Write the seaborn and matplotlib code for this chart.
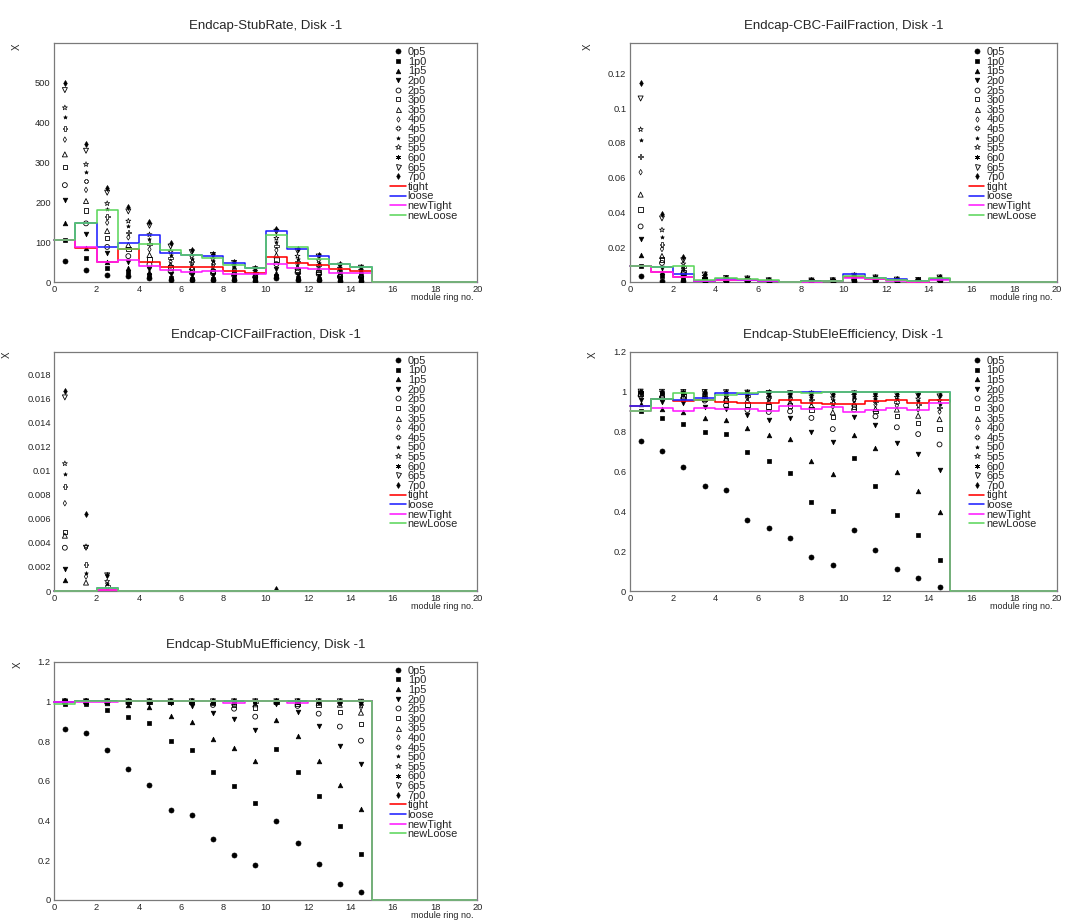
import numpy as np
import matplotlib
matplotlib.use("Agg")
import matplotlib.pyplot as plt
import seaborn as sns
from matplotlib.lines import Line2D
from matplotlib.ticker import MultipleLocator, FuncFormatter

nan = np.nan

# ---------------------------------------------------------------- data
ring_centers = np.arange(15) + 0.5          # module rings 0..14 (bin centres)
bin_edges = np.arange(21)                    # histogram binning 0..20
thresholds = ["0p5", "1p0", "1p5", "2p0", "2p5", "3p0", "3p5",
              "4p0", "4p5", "5p0", "5p5", "6p0", "6p5", "7p0"]
working_points = ["tight", "loose", "newTight", "newLoose"]

stub_rate = {
    "0p5": [53, 31, 17.5, 14, 9, 5, 5, 5, 4, 3, 10, 6, 5, 3, 3],
    "1p0": [106, 61, 36, 25, 17, 9, 8, 8, 7, 6, 15, 9, 8, 5, 5],
    "1p5": [148, 86, 49, 36, 24, 13, 13, 12, 10, 7.5, 22, 13, 11, 7, 7],
    "2p0": [205, 120, 73, 51, 33, 20, 18, 17, 13, 10, 33, 18, 15, 10, 9],
    "2p5": [243, 147, 88, 65, 44, 27, 23, 22, 17, 12.5, 45, 24, 20, 13, 12],
    "3p0": [288, 179, 111, 83, 57, 36, 31, 28, 22, 15, 57, 30, 25, 16, 15],
    "3p5": [320, 203, 128, 93, 68, 43, 37, 33, 25, 17.5, 67, 37, 30, 19, 18],
    "4p0": [357, 231, 149, 112, 82, 51, 44, 39, 29, 20, 80, 44, 36, 23, 21],
    "4p5": [385, 253, 164, 124, 96, 60, 51, 46, 33, 22.5, 90, 51, 42, 27, 24],
    "5p0": [413, 275, 183, 141, 109, 69, 59, 53, 38, 25, 101, 58, 48, 31, 27],
    "5p5": [437, 295, 197, 153, 119, 76, 64, 58, 42, 27.5, 110, 65, 54, 35, 30],
    "6p0": [459, 312, 210, 165, 130, 83, 70, 63, 45, 30, 118, 72, 59, 38, 33],
    "6p5": [481, 329, 224, 177, 141, 89, 75, 68, 48, 32, 126, 78, 64, 41, 36],
    "7p0": [499, 345, 236, 188, 150, 97, 80, 71, 51, 34, 134, 84, 68, 44, 38],
}
stub_rate_wp = {
    "tight":    [105, 86, 50, 83, 51, 38, 37, 38, 28, 22, 64, 47, 42, 32, 28],
    "loose":    [105, 147, 89, 98, 118, 73, 68, 65, 48, 36, 127, 82, 65, 46, 38],
    "newTight": [105, 87, 51, 55, 40, 30, 24, 28, 20, 20, 44, 34, 32, 23, 23],
    "newLoose": [105, 147, 181, 83, 96, 80, 68, 60, 43, 36, 117, 88, 58, 46, 38],
}

cbc_fail = {
    "0p5": [0.0034, 0.0006, 0.0006, 0.0002, 0.0008, 0.0007, 0.0003, nan, 0.0002, 0.0003, 0.0005, 0.0010, 0.0002, 0.0005, 0.0010],
    "1p0": [0.0094, 0.0034, 0.0015, 0.0004, 0.0010, 0.0009, 0.0004, nan, 0.0003, 0.0004, 0.0010, 0.0013, 0.0004, 0.0006, 0.0013],
    "1p5": [0.0153, 0.0060, 0.0025, 0.0006, 0.0012, 0.0010, 0.0005, nan, 0.0004, 0.0005, 0.0015, 0.0015, 0.0005, 0.0007, 0.0015],
    "2p0": [0.0249, 0.0082, 0.0035, 0.0009, 0.0014, 0.0011, 0.0006, nan, 0.0004, 0.0006, 0.0018, 0.0017, 0.0006, 0.0008, 0.0017],
    "2p5": [0.0320, 0.0110, 0.0045, 0.0012, 0.0015, 0.0012, 0.0006, nan, 0.0005, 0.0006, 0.0020, 0.0018, 0.0007, 0.0008, 0.0018],
    "3p0": [0.0417, 0.0130, 0.0055, 0.0015, 0.0016, 0.0013, 0.0007, nan, 0.0005, 0.0007, 0.0022, 0.0019, 0.0008, 0.0009, 0.0019],
    "3p5": [0.0503, 0.0150, 0.0065, 0.0018, 0.0017, 0.0014, 0.0007, nan, 0.0006, 0.0007, 0.0024, 0.0020, 0.0009, 0.0009, 0.0020],
    "4p0": [0.0632, 0.0190, 0.0075, 0.0022, 0.0018, 0.0015, 0.0008, nan, 0.0006, 0.0008, 0.0026, 0.0021, 0.0010, 0.0010, 0.0021],
    "4p5": [0.0722, 0.0215, 0.0085, 0.0026, 0.0019, 0.0016, 0.0008, nan, 0.0007, 0.0008, 0.0028, 0.0022, 0.0011, 0.0010, 0.0022],
    "5p0": [0.0817, 0.0258, 0.0095, 0.0030, 0.0020, 0.0017, 0.0009, nan, 0.0007, 0.0009, 0.0030, 0.0023, 0.0012, 0.0011, 0.0023],
    "5p5": [0.0878, 0.0300, 0.0105, 0.0034, 0.0021, 0.0018, 0.0009, nan, 0.0008, 0.0009, 0.0032, 0.0024, 0.0013, 0.0011, 0.0024],
    "6p0": [0.0976, 0.0330, 0.0115, 0.0038, 0.0022, 0.0019, 0.0010, nan, 0.0008, 0.0010, 0.0034, 0.0025, 0.0014, 0.0012, 0.0025],
    "6p5": [0.1056, 0.0366, 0.0125, 0.0043, 0.0023, 0.0020, 0.0010, nan, 0.0009, 0.0010, 0.0036, 0.0026, 0.0014, 0.0012, 0.0026],
    "7p0": [0.1143, 0.0390, 0.0142, 0.0048, 0.0024, 0.0021, 0.0011, nan, 0.0009, 0.0011, 0.0038, 0.0027, 0.0015, 0.0013, 0.0027],
}
cbc_fail_wp = {
    "tight":    [0.0094, 0.0057, 0.0027, 0.0006, 0.0013, 0.0012, 0.0007, 0, 0.0004, 0.0007, 0.0030, 0.0020, 0.0009, 0.0003, 0.0015],
    "loose":    [0.0094, 0.0088, 0.0044, 0.0008, 0.0015, 0.0013, 0.0008, 0, 0.0004, 0.0008, 0.0044, 0.0025, 0.0017, 0.0004, 0.0017],
    "newTight": [0.0094, 0.0057, 0.0027, 0.0004, 0.0012, 0.0011, 0.0006, 0, 0.0003, 0.0006, 0.0023, 0.0019, 0.0008, 0.0002, 0.0014],
    "newLoose": [0.0094, 0.0088, 0.0094, 0.0011, 0.0021, 0.0017, 0.0010, 0, 0.0006, 0.0006, 0.0036, 0.0025, 0.0011, 0.0006, 0.0021],
}

cic_fail = {
    "0p5": [nan, nan, nan, nan, nan, nan, nan, nan, nan, nan, nan, nan, nan, nan, nan],
    "1p0": [nan, nan, nan, nan, nan, nan, nan, nan, nan, nan, nan, nan, nan, nan, nan],
    "1p5": [0.0009, nan, nan, nan, nan, nan, nan, nan, nan, nan, nan, nan, nan, nan, nan],
    "2p0": [0.00186, nan, nan, nan, nan, nan, nan, nan, nan, nan, nan, nan, nan, nan, nan],
    "2p5": [0.0036, nan, nan, nan, nan, nan, nan, nan, nan, nan, nan, nan, nan, nan, nan],
    "3p0": [0.0049, nan, nan, nan, nan, nan, nan, nan, nan, nan, nan, nan, nan, nan, nan],
    "3p5": [0.0046, 0.0007, nan, nan, nan, nan, nan, nan, nan, nan, nan, nan, nan, nan, nan],
    "4p0": [0.0073, 0.0012, nan, nan, nan, nan, nan, nan, nan, nan, nan, nan, nan, nan, nan],
    "4p5": [0.0087, 0.0022, 0.0004, nan, nan, nan, nan, nan, nan, nan, nan, nan, nan, nan, nan],
    "5p0": [0.0097, 0.0015, 0.0006, nan, nan, nan, nan, nan, nan, nan, nan, nan, nan, nan, nan],
    "5p5": [0.0106, 0.0037, 0.0008, nan, nan, nan, nan, nan, nan, nan, nan, nan, nan, nan, nan],
    "6p0": [0.0144, 0.0036, 0.0009, nan, nan, nan, nan, nan, nan, nan, nan, nan, nan, nan, nan],
    "6p5": [0.0161, 0.0036, 0.0013, nan, nan, nan, nan, nan, nan, nan, nan, nan, nan, nan, nan],
    "7p0": [0.0166, 0.0064, 0.0013, nan, nan, nan, nan, nan, nan, nan, 0.00014, nan, nan, nan, nan],
}
cic_fail_wp = {
    "tight":    [0, 0, 0.00005, 0, 0, 0, 0, 0, 0, 0, 0, 0, 0, 0, 0],
    "loose":    [0, 0, 0.00022, 0, 0, 0, 0, 0, 0, 0, 0, 0, 0, 0, 0],
    "newTight": [0, 0, 0.00005, 0, 0, 0, 0, 0, 0, 0, 0, 0, 0, 0, 0],
    "newLoose": [0, 0, 0.00022, 0, 0, 0, 0, 0, 0, 0, 0, 0, 0, 0, 0],
}

ele_eff = {
    "0p5": [0.752, 0.700, 0.620, 0.529, 0.508, 0.357, 0.315, 0.266, 0.169, 0.129, 0.305, 0.208, 0.109, 0.064, 0.022],
    "1p0": [0.905, 0.869, 0.839, 0.796, 0.786, 0.698, 0.652, 0.593, 0.447, 0.402, 0.667, 0.526, 0.382, 0.280, 0.156],
    "1p5": [0.936, 0.913, 0.898, 0.869, 0.859, 0.819, 0.784, 0.764, 0.650, 0.586, 0.784, 0.717, 0.595, 0.501, 0.397],
    "2p0": [0.960, 0.948, 0.941, 0.921, 0.915, 0.884, 0.859, 0.869, 0.797, 0.745, 0.873, 0.834, 0.742, 0.687, 0.606],
    "2p5": [0.980, 0.970, 0.965, 0.955, 0.931, 0.908, 0.898, 0.901, 0.868, 0.812, 0.910, 0.876, 0.821, 0.787, 0.735],
    "3p0": [0.990, 0.980, 0.975, 0.965, 0.955, 0.936, 0.926, 0.930, 0.910, 0.874, 0.926, 0.903, 0.879, 0.843, 0.812],
    "3p5": [0.990, 0.985, 0.980, 0.975, 0.965, 0.955, 0.950, 0.945, 0.930, 0.896, 0.940, 0.913, 0.910, 0.879, 0.862],
    "4p0": [0.995, 0.990, 0.985, 0.980, 0.975, 0.968, 0.962, 0.958, 0.948, 0.925, 0.955, 0.935, 0.930, 0.910, 0.900],
    "4p5": [0.997, 0.993, 0.990, 0.987, 0.982, 0.977, 0.972, 0.968, 0.960, 0.945, 0.965, 0.950, 0.948, 0.935, 0.920],
    "5p0": [0.998, 0.996, 0.994, 0.992, 0.988, 0.984, 0.980, 0.977, 0.971, 0.960, 0.975, 0.963, 0.962, 0.952, 0.940],
    "5p5": [0.999, 0.997, 0.996, 0.995, 0.992, 0.989, 0.986, 0.984, 0.979, 0.970, 0.982, 0.973, 0.972, 0.964, 0.955],
    "6p0": [1.000, 0.998, 0.997, 0.997, 0.995, 0.993, 0.990, 0.989, 0.985, 0.978, 0.987, 0.980, 0.980, 0.974, 0.967],
    "6p5": [1.000, 0.999, 0.998, 0.998, 0.997, 0.995, 0.993, 0.992, 0.989, 0.984, 0.991, 0.986, 0.986, 0.981, 0.976],
    "7p0": [1.000, 1.000, 0.999, 0.999, 0.998, 0.997, 0.996, 0.995, 0.993, 0.989, 0.994, 0.990, 0.990, 0.987, 0.983],
}
ele_eff_wp = {
    "tight":    [0.930, 0.961, 0.955, 0.958, 0.948, 0.941, 0.945, 0.956, 0.941, 0.936, 0.940, 0.951, 0.958, 0.941, 0.960],
    "loose":    [0.930, 0.961, 0.958, 0.968, 0.995, 0.990, 0.997, 0.998, 0.997, 1.000, 1.000, 0.997, 0.999, 0.998, 0.998],
    "newTight": [0.905, 0.918, 0.901, 0.920, 0.915, 0.913, 0.901, 0.930, 0.913, 0.925, 0.900, 0.908, 0.920, 0.910, 0.943],
    "newLoose": [0.905, 0.961, 0.993, 0.956, 0.983, 0.995, 0.997, 1.000, 0.995, 1.000, 1.000, 1.000, 1.000, 1.000, 1.000],
}

mu_eff = {
    "0p5": [0.863, 0.841, 0.757, 0.658, 0.581, 0.454, 0.427, 0.308, 0.224, 0.174, 0.399, 0.286, 0.179, 0.079, 0.042],
    "1p0": [0.985, 0.985, 0.958, 0.921, 0.891, 0.802, 0.757, 0.642, 0.576, 0.489, 0.762, 0.642, 0.524, 0.374, 0.231],
    "1p5": [0.995, 0.995, 0.990, 0.983, 0.972, 0.928, 0.898, 0.811, 0.767, 0.698, 0.908, 0.826, 0.702, 0.580, 0.457],
    "2p0": [0.998, 0.998, 0.997, 0.995, 0.993, 0.990, 0.978, 0.940, 0.913, 0.856, 0.987, 0.948, 0.874, 0.774, 0.685],
    "2p5": [0.999, 0.999, 0.999, 0.998, 0.997, 0.996, 0.994, 0.982, 0.963, 0.923, 0.995, 0.977, 0.938, 0.873, 0.802],
    "3p0": [1.000, 1.000, 0.999, 0.999, 0.998, 0.998, 0.997, 0.993, 0.985, 0.970, 0.998, 0.990, 0.983, 0.946, 0.886],
    "3p5": [1.000, 1.000, 1.000, 0.999, 0.999, 0.999, 0.998, 0.997, 0.994, 0.985, 0.999, 0.996, 0.993, 0.983, 0.943],
    "4p0": [1.000, 1.000, 1.000, 1.000, 1.000, 0.999, 0.999, 0.998, 0.997, 0.993, 1.000, 0.998, 0.997, 0.990, 0.970],
    "4p5": [1.000, 1.000, 1.000, 1.000, 1.000, 1.000, 1.000, 0.999, 0.999, 0.997, 1.000, 0.999, 0.999, 0.996, 0.985],
    "5p0": [1.000, 1.000, 1.000, 1.000, 1.000, 1.000, 1.000, 1.000, 1.000, 0.999, 1.000, 1.000, 1.000, 0.998, 0.990],
    "5p5": [1.000, 1.000, 1.000, 1.000, 1.000, 1.000, 1.000, 1.000, 1.000, 1.000, 1.000, 1.000, 1.000, 0.999, 0.994],
    "6p0": [1.000, 1.000, 1.000, 1.000, 1.000, 1.000, 1.000, 1.000, 1.000, 1.000, 1.000, 1.000, 1.000, 1.000, 0.996],
    "6p5": [1.000, 1.000, 1.000, 1.000, 1.000, 1.000, 1.000, 1.000, 1.000, 1.000, 1.000, 1.000, 1.000, 1.000, 0.998],
    "7p0": [1.000, 1.000, 1.000, 1.000, 1.000, 1.000, 1.000, 1.000, 1.000, 1.000, 1.000, 1.000, 1.000, 1.000, 0.999],
}
mu_eff_wp = {
    "tight":    [0.995, 1.000, 1.000, 1.000, 1.000, 1.000, 1.000, 1.000, 1.000, 1.000, 1.000, 1.000, 1.000, 1.000, 1.000],
    "loose":    [0.999, 1.000, 1.000, 1.000, 1.000, 1.000, 1.000, 1.000, 1.000, 1.000, 1.000, 1.000, 1.000, 1.000, 1.000],
    "newTight": [0.995, 0.996, 0.996, 1.000, 1.000, 1.000, 1.000, 1.000, 0.990, 1.000, 1.000, 0.993, 1.000, 1.000, 1.000],
    "newLoose": [0.986, 1.000, 1.000, 1.000, 1.000, 1.000, 1.000, 1.000, 1.000, 1.000, 1.000, 1.000, 1.000, 1.000, 1.000],
}

# ---------------------------------------------------------------- style
sns.set_theme(style="white")
plt.rcParams["font.family"] = ["Liberation Sans", "DejaVu Sans"]

# marker, size (pt), filled, edge width
marker_style = {
    "0p5": ("o", 3.6, True, 0.5),
    "1p0": ("s", 3.1, True, 0.5),
    "1p5": ("^", 3.3, True, 0.5),
    "2p0": ("v", 3.3, True, 0.5),
    "2p5": ("o", 3.5, False, 0.6),
    "3p0": ("s", 3.2, False, 0.6),
    "3p5": ("^", 3.6, False, 0.6),
    "4p0": ("d", 2.8, False, 0.5),
    "4p5": ("P", 3.4, False, 0.5),
    "5p0": ("*", 2.8, True, 0.4),
    "5p5": ("*", 3.8, False, 0.5),
    "6p0": ((6, 2, 0), 3.6, False, 0.6),
    "6p5": ("v", 3.6, False, 0.6),
    "7p0": ("d", 3.0, True, 0.5),
}
wp_colors = {"tight": "#ff0000", "loose": "#1f1fff",
             "newTight": "#ff1aff", "newLoose": "#5cd65c"}
frame_color = "#7a7a7a"

panels = [
    # title, points, working points, ymax, major, minor, axes rect, ylabel x
    ("Endcap-StubRate, Disk -1", stub_rate, stub_rate_wp, 599, 100, 20,
     [0.0505, 0.6941, 0.3935, 0.2592], -0.078),
    ("Endcap-CBC-FailFraction, Disk -1", cbc_fail, cbc_fail_wp, 0.1375, 0.02, 0.005,
     [0.5860, 0.6941, 0.3972, 0.2592], -0.087),
    ("Endcap-CICFailFraction, Disk -1", cic_fail, cic_fail_wp, 0.0199, 0.002, 0.0005,
     [0.0505, 0.3590, 0.3935, 0.2595], -0.100),
    ("Endcap-StubEleEfficiency, Disk -1", ele_eff, ele_eff_wp, 1.2, 0.2, 0.05,
     [0.5860, 0.3590, 0.3972, 0.2595], -0.075),
    ("Endcap-StubMuEfficiency, Disk -1", mu_eff, mu_eff_wp, 1.2, 0.2, 0.05,
     [0.0505, 0.0239, 0.3935, 0.2585], -0.074),
]

fig = plt.figure(figsize=(10.75, 9.22), dpi=100)
fig.patch.set_facecolor("white")

for title, points, wps, ymax, major, minor, rect, ylab_x in panels:
    ax = fig.add_axes(rect)
    ax.set_facecolor("white")

    # threshold scans drawn as markers at each ring
    for name in thresholds:
        m, ms, filled, mew = marker_style[name]
        sns.scatterplot(x=ring_centers, y=np.asarray(points[name], dtype=float),
                        marker=m, s=ms ** 2, color="black",
                        facecolor="black" if filled else "none",
                        edgecolor="black", linewidth=mew,
                        legend=False, zorder=3, ax=ax)

    # working-point histograms as steps over the full 20-bin range
    for wp in working_points:
        vals = list(wps[wp]) + [0.0] * 5
        sns.lineplot(x=bin_edges, y=vals + [vals[-1]], drawstyle="steps-post",
                     color=wp_colors[wp], linewidth=1.15, estimator=None,
                     sort=False, zorder=4, clip_on=False, ax=ax)

    ax.set_xlim(0, 20)
    ax.set_ylim(0, ymax)
    ax.xaxis.set_major_locator(MultipleLocator(2))
    ax.xaxis.set_minor_locator(MultipleLocator(0.5))
    ax.yaxis.set_major_locator(MultipleLocator(major))
    ax.yaxis.set_minor_locator(MultipleLocator(minor))
    ax.yaxis.set_major_formatter(FuncFormatter(lambda v, p: f"{v:g}"))
    ax.xaxis.set_major_formatter(FuncFormatter(lambda v, p: f"{v:g}"))

    ax.tick_params(axis="y", which="major", direction="in", length=9, width=0.8,
                   pad=2.6, labelsize=6.7, color="#333333")
    ax.tick_params(axis="y", which="minor", direction="in", length=4.5, width=0.8,
                   color="#333333")
    ax.tick_params(axis="x", which="major", direction="in", length=5, width=0.8,
                   pad=2.2, labelsize=6.7, color="#333333")
    ax.tick_params(axis="x", which="minor", direction="in", length=2.6, width=0.8,
                   color="#333333")
    for sp in ax.spines.values():
        sp.set_color(frame_color)
        sp.set_linewidth(0.9)

    ax.set_title(title, fontsize=9.5, pad=10)
    ax.set_xlabel("module ring no.", fontsize=6.5, loc="right")
    ax.xaxis.set_label_coords(0.99, -0.045)
    ax.set_ylabel("X", fontsize=7, loc="top")
    ax.yaxis.set_label_coords(ylab_x, 1.0)

    handles = []
    for name in thresholds:
        m, ms, filled, mew = marker_style[name]
        handles.append(Line2D([], [], ls="none", marker=m, markersize=ms,
                              markerfacecolor="black" if filled else "none",
                              markeredgecolor="black", markeredgewidth=mew))
    for wp in working_points:
        handles.append(Line2D([], [], color=wp_colors[wp], linewidth=1.15))
    ax.legend(handles, thresholds + working_points, loc="upper left",
              bbox_to_anchor=(0.794, 0.983), frameon=False, fontsize=7.9,
              handlelength=1.4, handletextpad=0.2, labelspacing=-0.035,
              borderpad=0, borderaxespad=0)

fig.savefig("out.png", dpi=100, facecolor="white")
